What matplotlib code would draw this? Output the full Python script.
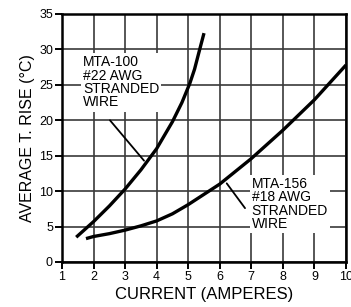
import matplotlib
matplotlib.use("Agg")
import matplotlib.pyplot as plt

# Data
mta100_current = [1.45, 2.0, 2.5, 3.0, 3.5, 4.0, 4.5, 4.8, 5.05, 5.2, 5.34, 5.5]
mta100_rise = [3.5, 5.7, 7.9, 10.3, 13.0, 16.0, 19.8, 22.5, 25.2, 27.2, 29.6, 32.3]
mta156_current = [1.76, 2.0, 2.5, 3.0, 3.5, 4.0, 4.5, 5.0, 6.0, 7.0, 8.0, 9.0, 10.0]
mta156_rise = [3.3, 3.6, 4.0, 4.5, 5.1, 5.8, 6.8, 8.1, 11.0, 14.6, 18.6, 22.9, 27.8]

x_ticks = [1, 2, 3, 4, 5, 6, 7, 8, 9, 10]
y_ticks = [0, 5, 10, 15, 20, 25, 30, 35]

label_100 = 'MTA-100\n#22 AWG\nSTRANDED\nWIRE'
label_156 = 'MTA-156\n#18 AWG\nSTRANDED\nWIRE'

plt.rcParams['font.family'] = ['Liberation Sans', 'DejaVu Sans']

fig = plt.figure(figsize=(3.51, 3.07), dpi=100)
ax = fig.add_axes([62/351, 45/307, 284/351, 248/307])

ax.set_xlim(1, 10)
ax.set_ylim(0, 35)
ax.set_xticks(x_ticks)
ax.set_yticks(y_ticks)
ax.grid(True, color='#3a3a3a', linewidth=1.2)
ax.set_axisbelow(True)

for s in ax.spines.values():
    s.set_linewidth(1.8)
    s.set_color('black')

ax.tick_params(axis='both', direction='out', length=5, width=1.4, labelsize=9, colors='black', pad=1.5)

ax.plot(mta100_current, mta100_rise, color='black', linewidth=2.4, solid_capstyle='butt')
ax.plot(mta156_current, mta156_rise, color='black', linewidth=2.4, solid_capstyle='butt')

box = dict(facecolor='white', edgecolor='none', pad=1.5)
ax.text(1.665, 29.2, label_100, fontsize=10, linespacing=0.95, va='top', ha='left', bbox=box, zorder=3)
ax.annotate('', xy=(3.6, 14.3), xytext=(2.52, 20.0),
            arrowprops=dict(arrowstyle='-', color='black', linewidth=1.3, shrinkA=0, shrinkB=0))
ax.text(7.01, 12.0, label_156, fontsize=10, linespacing=0.95, va='top', ha='left', bbox=box, zorder=3)
ax.annotate('', xy=(6.22, 11.1), xytext=(6.8, 7.6),
            arrowprops=dict(arrowstyle='-', color='black', linewidth=1.3, shrinkA=0, shrinkB=0))

ax.set_xlabel('CURRENT (AMPERES)', fontsize=12, labelpad=3)
ax.set_ylabel('AVERAGE T. RISE (°C)', fontsize=11.5, labelpad=3)

fig.savefig('out.png', dpi=100)
